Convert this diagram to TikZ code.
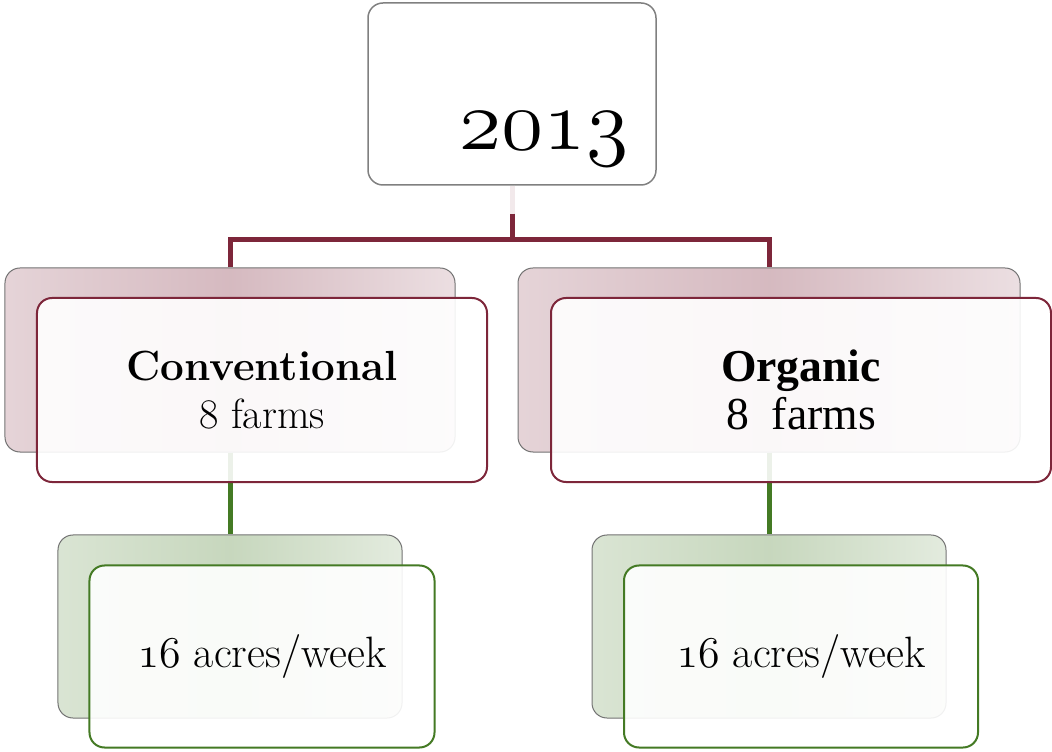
\RequirePackage{fix-cm}
\documentclass[tikz,border=0pt]{standalone}
\usepackage{fontspec}
\newfontfamily\timesfont{Liberation Serif}
\definecolor{wine}{RGB}{125,38,58}
\definecolor{leaf}{RGB}{68,122,36}
\colorlet{winepale}{wine!10}
\usetikzlibrary{positioning}
\tikzstyle{card}=[draw, rounded corners=3mm, inner sep=0pt, align=center]
\tikzstyle{yearbox}=[card, draw=gray, line width=0.3mm, fill=white,
  minimum width=57.6mm, minimum height=36.4mm]
\tikzstyle{backred}=[card, draw=gray!90!black, line width=0.2mm,
  left color=wine!20, right color=wine!15, middle color=wine!32,
  minimum height=36.8mm]
\tikzstyle{backgreen}=[card, draw=gray!90!black, line width=0.2mm,
  left color=leaf!20, right color=leaf!15, middle color=leaf!30,
  minimum height=36.6mm]
\tikzstyle{frontred}=[card, draw=wine, line width=0.4mm, fill=white,
  fill opacity=0.9, text opacity=1, minimum height=36.8mm]
\tikzstyle{frontgreen}=[card, draw=leaf, line width=0.4mm, fill=white,
  fill opacity=0.9, text opacity=1, minimum height=36.4mm,
  font=\fontsize{25}{27}\selectfont]
\tikzstyle{winelink}=[draw=wine, line width=1mm]
\tikzstyle{leaflink}=[draw=leaf, line width=1mm]

\begin{document}
\begin{tikzpicture}[x=0.2mm, y=-0.2mm, line join=miter]
  \useasboundingbox (0,0) rectangle (1052,752);

  \node[yearbox] (top) at (512,94) {};
  \node[font=\fontsize{49}{51}\selectfont] (year) at (544,139) {$\mathnormal{2013}$};

  % shaded boxes behind
  \node[backred, minimum width=90mm] (convb) at (230,360) {};
  \node[backred, minimum width=100.4mm] (orgb) at (769,360) {};
  \node[backgreen, minimum width=68.8mm] (convlb) at (230,626.5) {};
  \node[backgreen, minimum width=70.8mm] (orglb) at (769,626.5) {};

  \coordinate (fork) at (512,240);
  \draw[winelink, draw=winepale] (top.south) -- ++(0,28) coordinate (drop);
  \draw[winelink] (drop) -- (fork);
  \draw[winelink] (convb.north) |- (fork) -| (orgb.north);
  \draw[leaflink] (convb.south) -- (convlb.north);
  \draw[leaflink] (orgb.south) -- (orglb.north);

  \draw (convb) ++(32,30) node[frontred, minimum width=90mm,
    font=\fontsize{24}{27}\selectfont] (conv) {\textbf{Conventional}\\ 8 farms};
  \draw (orgb) ++(32,30) node[frontred, minimum width=100mm,
    font=\fontsize{26}{27}\selectfont\timesfont] (org) {\textbf{Organic}\\ 8\ \ farms};
  \draw (convlb) ++(32,30) node[frontgreen, minimum width=69mm] (convl)
    {$\mathnormal{16}$ acres/week};
  \draw (orglb) ++(32,30) node[frontgreen, minimum width=70.8mm] (orgl)
    {$\mathnormal{16}$ acres/week};
\end{tikzpicture}
\end{document}
